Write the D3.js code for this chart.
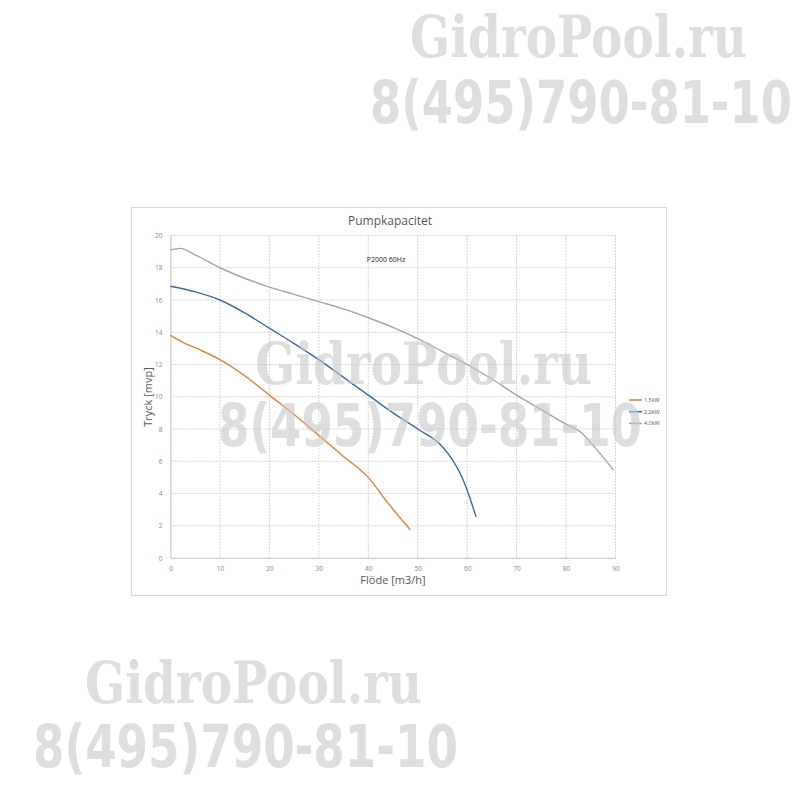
<!DOCTYPE html>
<html><head><meta charset="utf-8">
<script src="https://cdn.jsdelivr.net/npm/d3@7"></script>
<style>body{margin:0;background:#fff}svg{display:block}</style>
</head><body>
<script>
const title = "Pumpkapacitet";
const subtitle = "P2000 60Hz";
const xLabel = "Flöde [m3/h]";
const yLabel = "Tryck [mvp]";
const xTicks = [0,10,20,30,40,50,60,70,80,90];
const yTicks = [0,2,4,6,8,10,12,14,16,18,20];
const seriesNames = ["1,5kW","2,2kW","4,0kW"];
const seriesColors = ["#ed7d31","#3a6aa8","#a5a5a5"];
const s15 = [[0,13.8],[3,13.3],[6,12.9],[10,12.3],[15,11.3],[20,10.1],[25,8.9],[30,7.6],[35,6.3],[40,5.0],[44,3.4],[48.5,1.75]];
const s22 = [[0,16.85],[5,16.5],[10,16.0],[15,15.2],[20,14.25],[25,13.3],[30,12.3],[35,11.2],[40,10.1],[45,9.0],[50,8.0],[55,6.9],[57,6.1],[58.5,5.3],[60,4.2],[61.8,2.55]];
const s40 = [[0,19.1],[2,19.2],[5,18.8],[10,18.0],[15,17.35],[20,16.8],[25,16.35],[30,15.9],[35,15.45],[40,14.9],[45,14.3],[50,13.6],[55,12.8],[60,12.0],[65,11.1],[70,10.1],[75,9.2],[80,8.3],[83,7.8],[86,6.8],[89.6,5.45]];
const series = [s15, s22, s40];
const watermarkSite = "GidroPool.ru";
const watermarkPhone = "8(495)790-81-10";

const svg = d3.select("body").append("svg").attr("width",800).attr("height",800);
svg.append("rect").attr("x",131.5).attr("y",207.5).attr("width",535).attr("height",388)
  .attr("fill","#fff").attr("stroke","#d9d9d9");

const x = d3.scaleLinear().domain([0,90]).range([170.5,615.5]);
const y = d3.scaleLinear().domain([0,20]).range([558,235.5]);

const grid = svg.append("g");
grid.selectAll(".vg").data(xTicks).join("line")
  .attr("x1",d=>x(d)).attr("x2",d=>x(d)).attr("y1",y(0)).attr("y2",y(20))
  .attr("stroke","#d6d6d6").attr("stroke-width",1).attr("stroke-dasharray","2,1");
grid.selectAll(".hg").data(yTicks).join("line")
  .attr("x1",x(0)).attr("x2",x(90)).attr("y1",d=>y(d)).attr("y2",d=>y(d))
  .attr("stroke","#d6d6d6").attr("stroke-width",1).attr("stroke-dasharray","2,1");

const xAxis = svg.append("g").attr("transform",`translate(0,${y(0)})`)
  .call(d3.axisBottom(x).tickValues(xTicks).tickSize(0).tickPadding(8));
xAxis.select(".domain").attr("stroke","#cfcfcf");
xAxis.selectAll("text").attr("font-family","Open Sans, sans-serif").attr("font-size",6.5).attr("fill","#8a8a8a");

const yAxis = svg.append("g").attr("transform",`translate(${x(0)},0)`)
  .call(d3.axisLeft(y).tickValues(yTicks).tickSize(0).tickPadding(8));
yAxis.select(".domain").attr("stroke","#cfcfcf");
yAxis.selectAll("text").attr("font-family","Open Sans, sans-serif").attr("font-size",6.5).attr("fill","#8a8a8a");

const line = d3.line().x(d=>x(d[0])).y(d=>y(d[1])).curve(d3.curveMonotoneX);
svg.selectAll(".series").data(series).join("path")
  .attr("d",line).attr("fill","none")
  .attr("stroke",(d,i)=>seriesColors[i]).attr("stroke-width",1.4);

svg.append("text").attr("x",390).attr("y",225).attr("text-anchor","middle")
  .attr("font-family","Open Sans, sans-serif").attr("font-size",12).attr("fill","#595959").text(title);
svg.append("text").attr("x",386).attr("y",262).attr("text-anchor","middle")
  .attr("font-family","Open Sans, sans-serif").attr("font-size",7).attr("fill","#222222").text(subtitle);
svg.append("text").attr("x",393).attr("y",584).attr("text-anchor","middle")
  .attr("font-family","Open Sans, sans-serif").attr("font-size",11).attr("fill","#595959").text(xLabel);
svg.append("text").attr("transform","translate(152,397) rotate(-90)").attr("text-anchor","middle")
  .attr("font-family","Open Sans, sans-serif").attr("font-size",11).attr("fill","#595959").text(yLabel);

const leg = svg.append("g");
seriesNames.forEach((n,i)=>{
  const ly = 400 + i*11.7;
  leg.append("line").attr("x1",629).attr("x2",642).attr("y1",ly).attr("y2",ly)
    .attr("stroke",seriesColors[i]).attr("stroke-width",1.6);
  leg.append("text").attr("x",644).attr("y",ly+2).attr("font-family","Open Sans, sans-serif")
    .attr("font-size",5.5).attr("fill","#595959").text(n);
});

const wm = [
  {t:watermarkSite, x:410, y:57, w:337, serif:true},
  {t:watermarkPhone, x:370, y:123, w:422, serif:false},
  {t:watermarkSite, x:255, y:384, w:337, serif:true},
  {t:watermarkPhone, x:218, y:446, w:424, serif:false},
  {t:watermarkSite, x:85, y:703, w:337, serif:true},
  {t:watermarkPhone, x:33, y:767, w:425, serif:false}
];
svg.append("g").selectAll("text").data(wm).join("text")
  .attr("x",d=>d.x).attr("y",d=>d.y)
  .attr("textLength",d=>d.w).attr("lengthAdjust","spacingAndGlyphs")
  .attr("font-family",d=>d.serif?"DejaVu Serif, serif":"DejaVu Sans, sans-serif")
  .attr("font-weight","bold").attr("font-size",d=>d.serif?58:59)
  .attr("fill","#c8c8c8").attr("fill-opacity",0.6)
  .text(d=>d.t);
</script>
</body></html>
